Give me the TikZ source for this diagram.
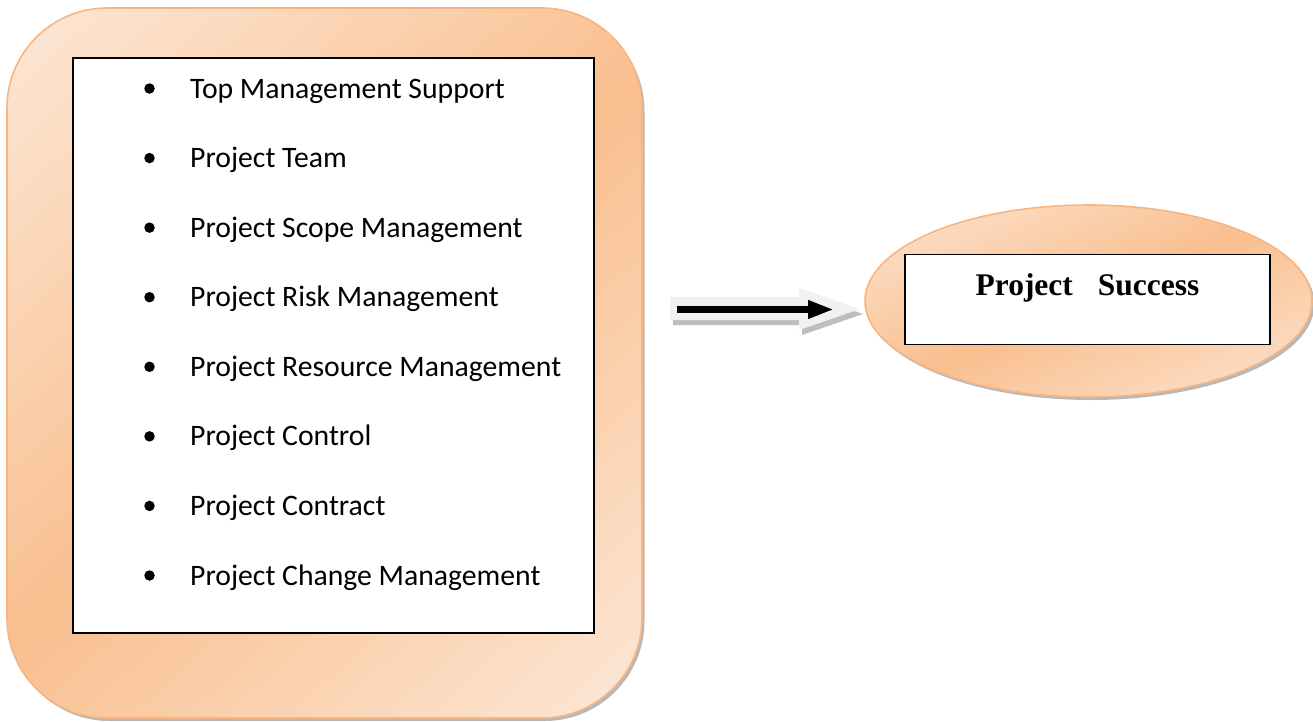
\documentclass[tikz,border=0pt]{standalone}
\usepackage{fontspec}
\setmainfont{Liberation Serif}
\newfontfamily\itemfont{Carlito}
\usetikzlibrary{shapes.geometric,arrows.meta,shadows}

\definecolor{peachlight}{HTML}{FDEBDD}
\definecolor{peachdark}{HTML}{F9BF8F}
\definecolor{peachedge}{HTML}{F6B582}
\definecolor{arrowgray}{HTML}{F1F1F1}
\definecolor{arrowshade}{HTML}{BEBEBE}

% light - orange - light, laid along a diagonal
\pgfdeclarehorizontalshading{peachmirror}{100bp}{%
  color(0bp)=(peachlight); color(12bp)=(peachlight);
  color(50bp)=(peachdark);
  color(88bp)=(peachlight); color(100bp)=(peachlight)}

\tikzset{
  softshadow/.style={drop shadow={shadow xshift=2.5pt, shadow yshift=-3pt,
      fill=black, opacity=0.28}},
  outerbox/.style={rectangle, rounded corners=100pt, draw=peachedge,
      line width=1.6pt, shading=peachmirror, shading angle=-48, softshadow,
      minimum width=635pt, minimum height=710pt, inner sep=0pt},
  listbox/.style={rectangle, draw=black, line width=1.6pt, fill=white,
      minimum width=521pt, minimum height=575pt, inner sep=0pt},
  itemtext/.style={anchor=base west, inner sep=0pt,
      font=\itemfont\fontsize{29.7}{34}\selectfont},
  bulletdot/.style={circle, fill=black, minimum size=10.5pt, inner sep=0pt},
  goalellipse/.style={ellipse, draw=peachedge, line width=1.6pt,
      shading=peachmirror, shading angle=-66.5, softshadow,
      minimum width=447pt, minimum height=192pt, inner sep=0pt},
  goalbox/.style={rectangle, draw=black, line width=1.6pt, fill=white,
      minimum width=365pt, minimum height=90pt, inner sep=0pt},
  goaltext/.style={anchor=base, inner sep=0pt,
      font=\bfseries\fontsize{31.5}{36}\selectfont},
  blockarrow/.style={fill=arrowgray},
  blockshadow/.style={fill=arrowshade},
  mainarrow/.style={line width=6.5pt, -{Triangle[length=26pt,width=17pt]}}
}

\begin{document}
\begin{tikzpicture}[x=1pt,y=-1pt]
\useasboundingbox (0,0) rectangle (1313,721);

% left panel with the list of factors
\node[outerbox] (factors) at (324.5,363) {};
\node[listbox] (list) at (333.5,345.5) {};

\foreach \t [count=\i] in {Top Management Support, Project Team,
    Project Scope Management, Project Risk Management,
    Project Resource Management, Project Control, Project Contract,
    Project Change Management}{
  \node[bulletdot] (dot\i) at (149.5,{88.5+69.57*(\i-1)}) {};
  \node[itemtext] (item\i) at (190,{98+69.57*(\i-1)}) {\t};
}

% block arrow with its shadow
\begin{scope}[shift={(3,5)}]
  \fill[blockshadow] (670,297) -- (799,297) -- (799,288) -- (860,309)
    -- (799,330) -- (799,320) -- (670,320) -- cycle;
\end{scope}
\fill[blockarrow] (670,297) -- (799,297) -- (799,288) -- (860,309)
  -- (799,330) -- (799,320) -- (670,320) -- cycle;

\coordinate (arrowstart) at (677,309.5);
\coordinate (arrowend) at (834,309.5);
\draw[mainarrow] (arrowstart) -- (arrowend);

% outcome
\node[goalellipse] (goal) at (1088.5,301) {};
\node[goalbox] (goalframe) at (1087.5,299.5) {};
\node[goaltext] (goallabel) at (1087.5,295) {Project\hspace{25pt}Success};
\end{tikzpicture}
\end{document}
